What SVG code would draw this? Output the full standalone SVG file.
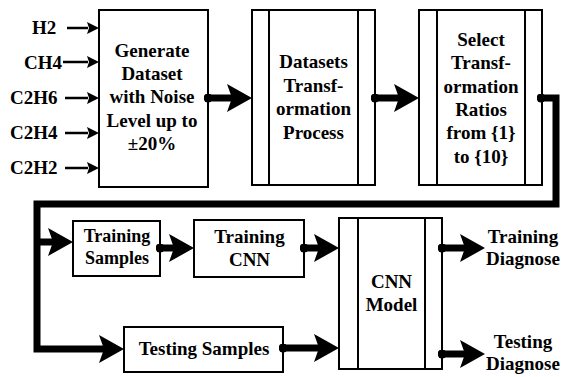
<svg xmlns="http://www.w3.org/2000/svg" width="561" height="377" viewBox="0 0 561 377">
  <style>
    .box { fill: #fff; stroke: #000; stroke-width: 2; }
    .div { stroke: #000; stroke-width: 2; fill: none; }
    text { font-family: 'Liberation Serif', 'DejaVu Serif', serif; font-weight: 700; font-size: 19px; fill: #000; }
    .t { text-anchor: middle; }
    .thin { stroke: #000; stroke-width: 2.5; fill: none; marker-end: url(#small); }
    .thick { stroke: #000; stroke-width: 7; fill: none; stroke-linejoin: miter; marker-start: url(#dot); marker-end: url(#big); }
  </style>
  <defs>
    <marker id="big" viewBox="0 0 25 28" refX="5" refY="14" markerWidth="25" markerHeight="28" markerUnits="userSpaceOnUse" orient="auto">
      <path d="M0,0 L25,14 L0,28 L5,14 Z" fill="#000"/>
    </marker>
    <marker id="dot" viewBox="0 0 10 10" refX="5" refY="5" markerWidth="9" markerHeight="9" markerUnits="userSpaceOnUse" orient="auto">
      <circle cx="5" cy="5" r="5" fill="#000"/>
    </marker>
    <marker id="small" viewBox="0 0 12 12" refX="1" refY="6" markerWidth="12" markerHeight="12" markerUnits="userSpaceOnUse" orient="auto">
      <path d="M0,0 L12,6 L0,12 L2,6 Z" fill="#000"/>
    </marker>
  </defs>

  <!-- gas inputs -->
  <g id="inputs">
    <text x="32" y="34">H2</text>
    <text x="24" y="69">CH4</text>
    <text x="10" y="104">C2H6</text>
    <text x="10" y="139">C2H4</text>
    <text x="10" y="174">C2H2</text>
    <path class="thin" d="M67,28 H88"/>
    <path class="thin" d="M63,62 H88"/>
    <path class="thin" d="M65,98 H88"/>
    <path class="thin" d="M65,133 H88"/>
    <path class="thin" d="M65,168 H88"/>
  </g>

  <g id="generate">
    <rect class="box" x="99" y="10" width="109" height="177"/>
    <text class="t" x="152" y="57">Generate</text>
    <text class="t" x="152" y="80">Dataset</text>
    <text class="t" x="152" y="103">with Noise</text>
    <text class="t" x="152" y="127">Level up to</text>
    <text class="t" x="152" y="150">±20%</text>
  </g>

  <g id="transformation">
    <rect class="box" x="252" y="10" width="123" height="175"/>
    <path class="div" d="M269,10 V185 M358,10 V185"/>
    <text class="t" x="313.5" y="68">Datasets</text>
    <text class="t" x="313.5" y="92">Transf-</text>
    <text class="t" x="313.5" y="115">ormation</text>
    <text class="t" x="313.5" y="139">Process</text>
  </g>

  <g id="ratios">
    <rect class="box" x="419" y="10" width="123" height="175"/>
    <path class="div" d="M437,10 V185 M525,10 V185"/>
    <text class="t" x="481" y="46">Select</text>
    <text class="t" x="481" y="69">Transf-</text>
    <text class="t" x="481" y="93">ormation</text>
    <text class="t" x="481" y="116">Ratios</text>
    <text class="t" x="481" y="139">from {1}</text>
    <text class="t" x="481" y="163">to {10}</text>
  </g>

  <g id="training-samples">
    <rect class="box" x="73" y="221" width="87" height="55"/>
    <text class="t" x="117" y="242" style="font-size:18px">Training</text>
    <text class="t" x="117" y="264" style="font-size:18px">Samples</text>
  </g>

  <g id="training-cnn">
    <rect class="box" x="194" y="220" width="110" height="57"/>
    <text class="t" x="249.5" y="243">Training</text>
    <text class="t" x="249.5" y="266">CNN</text>
  </g>

  <g id="testing-samples">
    <rect class="box" x="124" y="327" width="159" height="45"/>
    <text class="t" x="204" y="355">Testing Samples</text>
  </g>

  <g id="cnn-model">
    <rect class="box" x="339" y="218" width="103" height="151"/>
    <path class="div" d="M358,218 V369 M425,218 V369"/>
    <text class="t" x="391.5" y="288">CNN</text>
    <text class="t" x="391.5" y="311">Model</text>
  </g>

  <g id="training-diagnose">
    <text class="t" x="523" y="243">Training</text>
    <text class="t" x="523" y="265">Diagnose</text>
  </g>

  <g id="testing-diagnose">
    <text class="t" x="523" y="348">Testing</text>
    <text class="t" x="523" y="370">Diagnose</text>
  </g>

  <!-- connectors -->
  <g id="connectors">
    <path class="thick" d="M208,98 H232"/>
    <path class="thick" d="M375,98 H399"/>
    <path class="thick" d="M541,98 H556 V204 H37 V349 H104"/>
    <path class="thick" d="M37,242 H53" style="marker-start:none"/>
    <path class="thick" d="M160,248 H174"/>
    <path class="thick" d="M304,248 H319"/>
    <path class="thick" d="M283,348 H319"/>
    <path class="thick" d="M442,248 H465"/>
    <path class="thick" d="M442,354 H465"/>
  </g>
</svg>
